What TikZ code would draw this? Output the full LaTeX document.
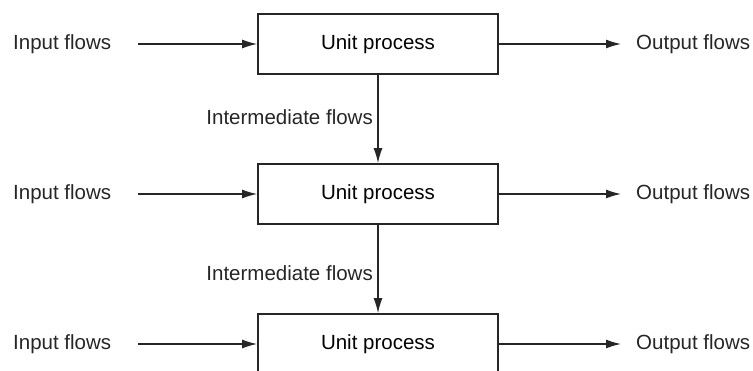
\documentclass[tikz,border=0pt]{standalone}
\usepackage{fontspec}
\setmainfont{Liberation Sans}
\usetikzlibrary{arrows.meta}
\begin{document}
\begin{tikzpicture}[x=1pt,y=-1pt,
  proc/.style={draw=black!85, line width=1.8pt, minimum width=240pt, minimum height=60pt, inner sep=0pt, font=\fontsize{20.5}{24}\selectfont},
  lbl/.style={inner sep=0pt, font=\fontsize{20.5}{24}\selectfont, text=black!85},
  flow/.style={draw=black!85, line width=1.3pt, -{Latex[length=15pt,width=9pt]}}]
\useasboundingbox (0,0) rectangle (753,371);
\clip (0,0) rectangle (753,371);
\node[proc] (p1) at (378,44) {Unit process};
\node[proc] (p2) at (378,194) {Unit process};
\node[proc] (p3) at (378,344) {Unit process};
\foreach \i/\y in {1/44,2/194,3/344}{
  \node[lbl, anchor=west] (in\i) at (13,\y) {Input flows};
  \node[lbl, anchor=west] (out\i) at (636,\y) {Output flows};
  \coordinate (is\i) at (138,\y);
  \coordinate (oe\i) at (621,\y);
  \draw[flow] (is\i) -- (p\i.west);
  \draw[flow] (p\i.east) -- (oe\i);
}
\node[lbl, anchor=east] (m1) at (373,117) {Intermediate flows};
\node[lbl, anchor=east] (m2) at (373,273) {Intermediate flows};
\draw[flow] (p1.south) -- (p2.north);
\draw[flow] (p2.south) -- (p3.north);
\end{tikzpicture}
\end{document}
